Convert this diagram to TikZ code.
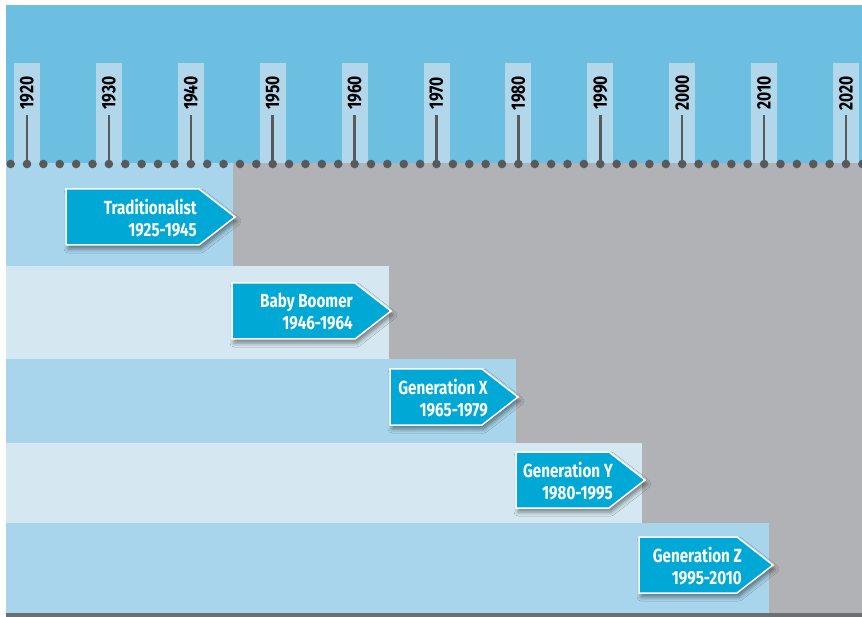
\documentclass[tikz,border=0pt]{standalone}
\usepackage{fontspec}
\setmainfont{Fira Sans}[FakeStretch=0.8]
\usetikzlibrary{shadows.blur}
\definecolor{skyband}{HTML}{6DBFE1}
\definecolor{tickcol}{HTML}{B3D7EA}
\definecolor{rowdark}{HTML}{A8D5EC}
\definecolor{rowlight}{HTML}{D5E7F1}
\definecolor{restgray}{HTML}{B1B2B5}
\definecolor{arrowblue}{HTML}{00A9D5}
\definecolor{dotgray}{HTML}{58595B}
\definecolor{bargray}{HTML}{6E6F72}
\tikzset{
  genarrow/.style={fill=arrowblue, draw=white, line width=1.5pt, line join=miter,
    blur shadow={shadow xshift=2pt, shadow yshift=-4pt, shadow blur radius=4pt, shadow opacity=45}},
  genlabel/.style={text=white, font=\bfseries\fontsize{19}{22}\selectfont, align=right, inner sep=0pt, anchor=east},
  yearlabel/.style={text=black, font=\bfseries\fontsize{19.5}{19.5}\selectfont, rotate=90, inner sep=0pt}
}
\begin{document}
\begin{tikzpicture}[x=1pt,y=-1pt]
\useasboundingbox (0,0) rectangle (862,617);
% background bands
\fill[skyband] (6,5) rectangle (862,163);
\fill[restgray] (6,163) rectangle (862,613);
\fill[bargray] (6,613) rectangle (862,617);
\fill[rowdark] (6,163) rectangle (233,266);
\fill[rowlight] (6,266) rectangle (389,359);
\fill[rowdark] (6,359) rectangle (516,443);
\fill[rowlight] (6,443) rectangle (642,523);
\fill[rowdark] (6,523) rectangle (769,613);
% year ticks
\foreach \yr [evaluate=\yr as \px using 27+(\yr-1920)*8.19] in {1920,1930,...,2020} {
    \fill[tickcol] (\px-13,63) rectangle (\px+13,163);
    \draw[dotgray, line width=2.5pt] (\px,115) -- (\px,164);
    \node[yearlabel] (y\yr) at (\px,93) {\yr};
}
\foreach \yr [evaluate=\yr as \px using 27+(\yr-1920)*8.19] in {1918,1920,...,2022}
    \fill[dotgray] (\px,164) circle (4.3);
% generations
\draw[genarrow] (66,189) -- (199,189) -- (235,217) -- (199,245) -- (66,245) -- cycle;
\node[genlabel] (trad) at (197,218) {Traditionalist\\1925-1945};
\draw[genarrow] (232,283) -- (355,283) -- (391,311) -- (355,339) -- (232,339) -- cycle;
\node[genlabel] (boomer) at (353,312) {Baby Boomer\\1946-1964};
\draw[genarrow] (390,369) -- (482,369) -- (518,397) -- (482,425) -- (390,425) -- cycle;
\node[genlabel] (genx) at (488,398) {Generation X\\1965-1979};
\draw[genarrow] (516,452) -- (609,452) -- (645,480) -- (609,508) -- (516,508) -- cycle;
\node[genlabel] (geny) at (613,481) {Generation Y\\1980-1995};
\draw[genarrow] (639,537) -- (737,537) -- (773,565) -- (737,593) -- (639,593) -- cycle;
\node[genlabel] (genz) at (742,566) {Generation Z\\1995-2010};
\end{tikzpicture}
\end{document}
